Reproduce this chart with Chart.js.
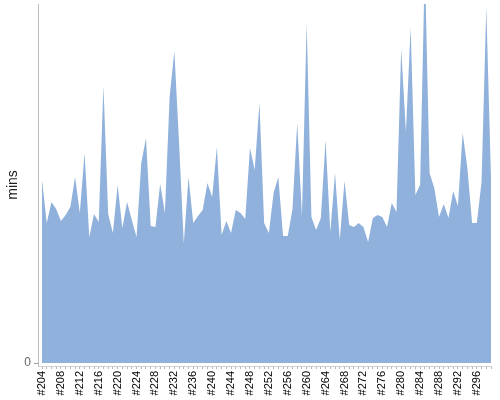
<!doctype html>
<html lang="en">
<head>
  <meta charset="utf-8">
  <title>Build times</title>
  <style>
    * {
      margin: 0;
      padding: 0;
    }
    body {
      background: #fff;
    }
  </style>
</head>
<body>
<canvas id="myChart" width="500" height="400"></canvas>
<script src="https://cdn.jsdelivr.net/npm/chart.js"></script>
<script>
  // builds #204 .. #299
  const builds = [];
  for (let b = 204; b <= 299; b++) builds.push(b);

  // duration per build
  const mins = [
    18.3, 14.0, 16.1, 15.4, 14.2, 14.8, 15.6, 18.6, 15.0, 21.0,
    12.6, 14.9, 14.1, 27.7, 14.9, 13.0, 17.8, 13.5, 16.1, 14.3,
    12.6, 20.0, 22.5, 13.7, 13.6, 17.9, 15.0, 26.6, 31.2, 22.0,
    12.0, 18.6, 14.0, 14.7, 15.3, 18.0, 16.6, 21.6, 12.8, 14.2,
    13.0, 15.3, 15.0, 14.4, 21.5, 19.3, 26.0, 14.0, 13.0, 17.0,
    18.6, 12.7, 12.7, 15.4, 24.0, 14.7, 34.0, 14.6, 13.3, 14.5,
    22.3, 13.1, 19.0, 12.3, 18.2, 13.8, 13.6, 14.0, 13.6, 12.1,
    14.5, 14.8, 14.6, 13.6, 16.0, 15.1, 31.4, 23.1, 33.6, 16.8,
    17.8, 40.0, 19.0, 17.5, 14.6, 15.9, 14.5, 17.2, 15.7, 23.0,
    19.5, 14.0, 14.0, 18.1, 35.6, 18.5
  ];

  // only every 4th build gets a label
  const labelEvery = 4;
  const yTicks = [0];

  const points = builds.map((b, i) => ({x: b, y: mins[i]}));

  const data = {
    datasets: [{
      label: 'mins',
      data: points,
      fill: 'origin',
      backgroundColor: '#8fb1db',
      borderWidth: 0,
      pointRadius: 0,
      pointHoverRadius: 0,
      tension: 0
    }]
  };

  const config = {
    type: 'line',
    data,
    options: {
      responsive: false,
      devicePixelRatio: 1,
      animation: false,
      layout: {
        padding: {top: 4, right: 9, left: 0, bottom: 0}
      },
      plugins: {
        legend: {display: false},
        tooltip: {enabled: false}
      },
      scales: {
        x: {
          type: 'linear',
          min: 203.15,
          max: 299,
          afterFit: function (scale) {
            scale.height = 34;
            scale.paddingLeft = 0;
            scale.paddingRight = 0;
          },
          border: {color: '#d0d0d0'},
          grid: {
            drawOnChartArea: false,
            tickLength: 3,
            color: '#b8b8b8'
          },
          ticks: {
            stepSize: 1,
            includeBounds: false,
            autoSkip: false,
            minRotation: 90,
            maxRotation: 90,
            padding: 2,
            color: '#000',
            font: {family: 'Liberation Sans', size: 11},
            callback: function (v) {
              return (v % labelEvery === 0) ? '#' + v : '';
            }
          }
        },
        y: {
          min: -0.3,
          max: 35.9,
          afterFit: function (scale) {
            scale.width = 38;
            scale.paddingTop = 0;
            scale.paddingBottom = 0;
          },
          afterBuildTicks: function (scale) {
            scale.ticks = yTicks.map(v => ({value: v}));
          },
          border: {color: '#bdbdbd'},
          grid: {
            drawOnChartArea: false,
            tickLength: 4,
            color: '#999'
          },
          ticks: {
            padding: 3,
            color: '#666',
            font: {family: 'Liberation Sans', size: 12}
          },
          title: {
            display: true,
            text: 'mins',
            color: '#222',
            padding: {top: 5, bottom: 4},
            font: {family: 'Liberation Sans', size: 14}
          }
        }
      }
    }
  };

  const myChart = new Chart(
    document.getElementById('myChart'),
    config
  );
</script>
</body>
</html>
